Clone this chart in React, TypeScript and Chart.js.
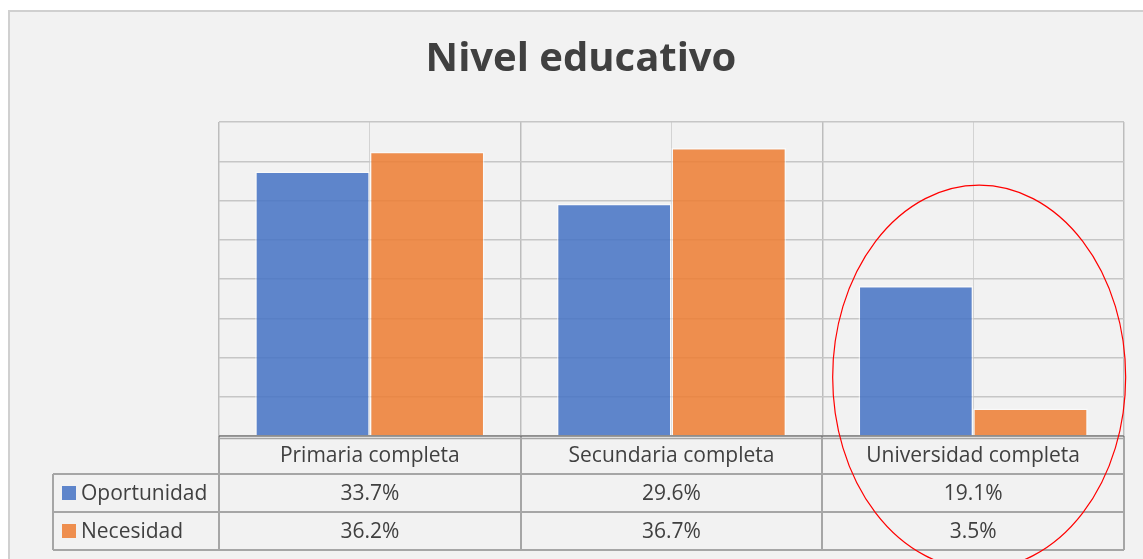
import React, { useEffect, useRef } from "react";
import { Chart, registerables } from "chart.js";

Chart.register(...registerables);

const categories = ["Primaria completa", "Secundaria completa", "Universidad completa"];
const oportunidad = [33.7, 29.6, 19.1];
const necesidad = [36.2, 36.7, 3.5];
const seriesNames = ["Oportunidad", "Necesidad"];
const chartTitle = "Nivel educativo";

const FONT = "'Open Sans', 'DejaVu Sans', sans-serif";
const TEXT = "#404040";

const bgPlugin = {
  id: "bgPlugin",
  beforeDraw(chart: any) {
    const { ctx, width, height } = chart;
    ctx.save();
    ctx.fillStyle = "#ffffff";
    ctx.fillRect(0, 0, width, height);
    ctx.fillStyle = "#f2f2f2";
    ctx.fillRect(8, 10, width - 8, height - 10);
    ctx.strokeStyle = "#d0d0d0";
    ctx.lineWidth = 2;
    ctx.beginPath();
    ctx.moveTo(9, height);
    ctx.lineTo(9, 11);
    ctx.lineTo(width, 11);
    ctx.stroke();
    // title, centred on the whole chart box
    ctx.fillStyle = TEXT;
    ctx.font = `bold 40px ${FONT}`;
    ctx.textAlign = "center";
    ctx.textBaseline = "middle";
    ctx.fillText(chartTitle, 581, 60);
    ctx.restore();
  },
};

const tablePlugin = {
  id: "tablePlugin",
  afterDraw(chart: any) {
    const { ctx, chartArea } = chart;
    const left = chartArea.left;
    const right = chartArea.right;
    const top = chartArea.bottom;
    const rowH = 38;
    const legendLeft = 53;
    const n = categories.length;
    const colW = (right - left) / n;
    const xs = chart.scales.x;

    ctx.save();
    ctx.strokeStyle = "#a6a6a6";
    ctx.lineWidth = 2;
    ctx.beginPath();
    for (let i = 0; i <= n; i++) {
      const x = Math.round(left + i * colW);
      ctx.moveTo(x, top);
      ctx.lineTo(x, top + rowH * 3);
    }
    for (let r = 1; r <= 3; r++) {
      const y = top + rowH * r;
      ctx.moveTo(legendLeft, y);
      ctx.lineTo(right, y);
    }
    ctx.moveTo(legendLeft, top + rowH);
    ctx.lineTo(legendLeft, top + rowH * 3);
    ctx.stroke();

    ctx.strokeStyle = "#a6a6a6";
    ctx.lineWidth = 1.5;
    ctx.beginPath();
    ctx.moveTo(left, top + 2.5);
    ctx.lineTo(right, top + 2.5);
    ctx.stroke();
    ctx.strokeStyle = "#595959";
    ctx.lineWidth = 1.2;
    ctx.beginPath();
    ctx.moveTo(left, top);
    ctx.lineTo(right, top);
    ctx.stroke();

    ctx.fillStyle = TEXT;
    ctx.font = `21px ${FONT}`;
    ctx.textAlign = "center";
    ctx.textBaseline = "middle";
    categories.forEach((c, i) => {
      const cx = xs.getPixelForValue(i);
      ctx.fillText(c, cx, top + rowH / 2 + 1);
      ctx.fillText(oportunidad[i].toFixed(1) + "%", cx, top + rowH * 1.5 + 1);
      ctx.fillText(necesidad[i].toFixed(1) + "%", cx, top + rowH * 2.5 + 1);
    });

    const colors = chart.data.datasets.map((d: any) => d.backgroundColor);
    ctx.textAlign = "left";
    seriesNames.forEach((s, i) => {
      const cy = top + rowH * (1.5 + i);
      ctx.fillStyle = colors[i];
      ctx.fillRect(62, cy - 7, 14, 14);
      ctx.fillStyle = TEXT;
      ctx.fillText(s, 81, cy + 1);
    });

    // red annotation ellipse around last category
    const ys = chart.scales.y;
    const ex = xs.getPixelForValue(n - 1) + 6;
    const ey = ys.getPixelForValue(7.5);
    ctx.strokeStyle = "#ff0000";
    ctx.lineWidth = 1.2;
    ctx.beginPath();
    ctx.ellipse(ex, ey, 146.5, 192, 0, 0, Math.PI * 2);
    ctx.stroke();
    ctx.restore();
  },
};

export default function App() {
  const ref = useRef<HTMLCanvasElement | null>(null);
  useEffect(() => {
    if (!ref.current) return;
    const chart = new Chart(ref.current, {
      type: "bar",
      data: {
        labels: categories,
        datasets: [
          {
            label: seriesNames[0],
            data: oportunidad,
            backgroundColor: "rgba(68,114,196,0.85)",
            borderColor: "rgba(255,255,255,0.55)",
            borderWidth: 1.5,
            categoryPercentage: 0.76,
            barPercentage: 1,
          },
          {
            label: seriesNames[1],
            data: necesidad,
            backgroundColor: "rgba(237,125,49,0.85)",
            borderColor: "rgba(255,255,255,0.55)",
            borderWidth: 1.5,
            categoryPercentage: 0.76,
            barPercentage: 1,
          },
        ],
      },
      options: {
        responsive: false,
        animation: false,
        layout: { padding: { left: 219, right: 19, top: 122, bottom: 123 } },
        plugins: {
          legend: { display: false },
          tooltip: { enabled: false },
          title: { display: false },
        },
        scales: {
          x: {
            grid: { offset: true, color: "#bdbdbd", lineWidth: 1.5, drawTicks: false },
            ticks: { display: false },
            border: { display: false },
          },
          x2: {
            type: "category",
            position: "bottom",
            labels: categories,
            grid: { offset: false, color: "#d3d3d3", lineWidth: 1, drawTicks: false },
            ticks: { display: false },
            border: { display: false },
          },
          y: {
            min: 0,
            max: 40,
            ticks: { display: false, stepSize: 5 },
            grid: { color: "#c6c6c6", lineWidth: 1.5, drawTicks: false },
            border: { display: false },
          },
        },
      },
      plugins: [bgPlugin, tablePlugin],
    } as any);
    return () => chart.destroy();
  }, []);
  return (
    <div style={{ position: "fixed", left: 0, top: 0, width: 1143, height: 559 }}>
      <canvas ref={ref} width={1143} height={559} />
    </div>
  );
}
